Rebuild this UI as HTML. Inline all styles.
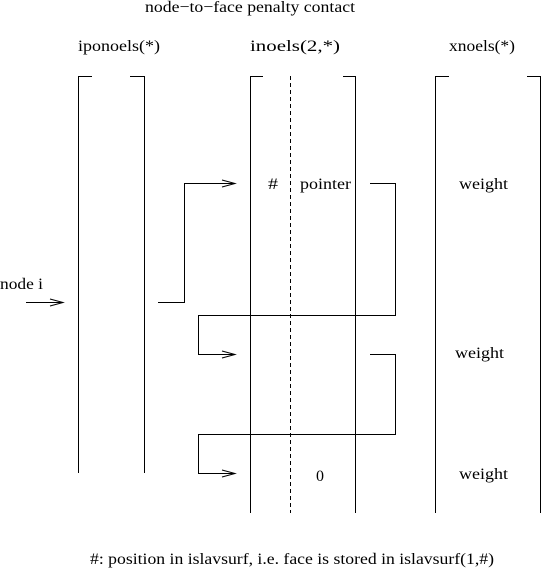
<!DOCTYPE html>
<html><head><style>
body{margin:0;background:#fff}
svg{display:block}
text{font-family:"Liberation Serif",serif;font-size:16px;fill:#000}
</style></head><body>
<svg width="541" height="570" viewBox="0 0 541 570" xmlns="http://www.w3.org/2000/svg">
<g stroke="#000" stroke-width="1" fill="none">
<path d="M78.5 473V76.5H92M130 76.5H144.5V473"/>
<path d="M250.5 513V76.5H263M343 76.5H355.5V513"/>
<path d="M290.5 76V513" stroke-dasharray="4,3"/>
<path d="M435.5 513V76.5H449M527 76.5H540.5V513"/>
<path d="M26 302.5H63"/>
<path d="M158 302.5H184.5V183.5H235"/>
<path d="M370 183.5H395.5V315.5H198.5V354.5H235"/>
<path d="M370 354.5H395.5V434.5H198.5V473.5H235"/>
<path d="M50 299L63 302.5L50 306M222 180L235 183.5L222 187M222 351L235 354.5L222 358M222 470L235 473.5L222 477"/>
</g>
<text x="145" y="12" textLength="210" lengthAdjust="spacingAndGlyphs">node−to−face penalty contact</text>
<text x="78" y="51" textLength="82" lengthAdjust="spacingAndGlyphs">iponoels(*)</text>
<text x="250" y="51" textLength="90" lengthAdjust="spacingAndGlyphs">inoels(2,*)</text>
<text x="449" y="51" textLength="66" lengthAdjust="spacingAndGlyphs">xnoels(*)</text>
<text x="268" y="189" textLength="10" lengthAdjust="spacingAndGlyphs">#</text>
<text x="300" y="189" textLength="51" lengthAdjust="spacingAndGlyphs">pointer</text>
<text x="459" y="189" textLength="49" lengthAdjust="spacingAndGlyphs">weight</text>
<text x="455" y="358" textLength="49" lengthAdjust="spacingAndGlyphs">weight</text>
<text x="459" y="479" textLength="49" lengthAdjust="spacingAndGlyphs">weight</text>
<text x="316" y="481">0</text>
<text x="0" y="289" textLength="43" lengthAdjust="spacingAndGlyphs">node i</text>
<text x="90" y="564" textLength="404" lengthAdjust="spacingAndGlyphs">#: position in islavsurf, i.e. face is stored in islavsurf(1,#)</text>
</svg>
</body></html>
